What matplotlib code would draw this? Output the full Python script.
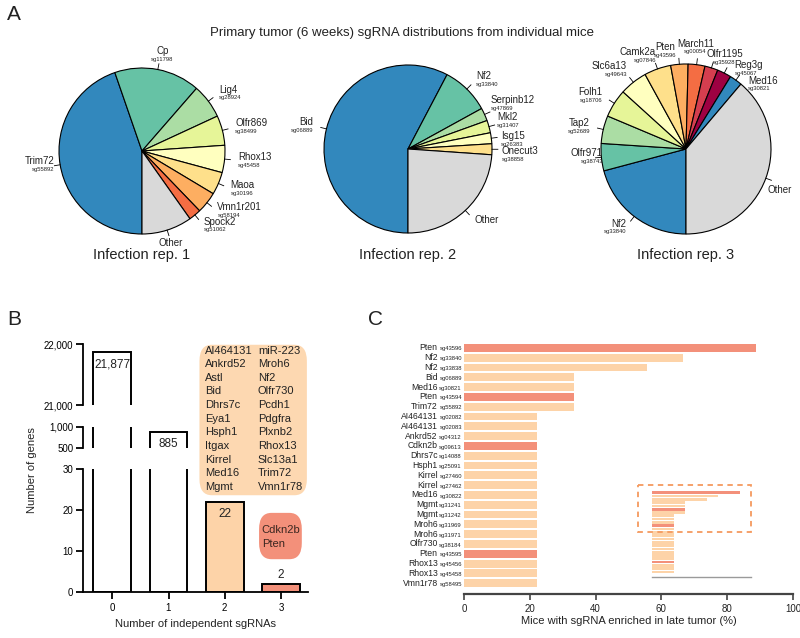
import matplotlib

matplotlib.use("Agg")
import matplotlib.pyplot as plt
from matplotlib.patches import FancyBboxPatch, Rectangle
from matplotlib.ticker import FuncFormatter
import numpy as np

W, H = 800, 638
plt.rcParams["font.family"] = ["Liberation Sans", "DejaVu Sans"]

# --- Panel A: pie data (share in %) ---
pie1_names = ["Trim72", "Cp", "Lig4", "Olfr869", "Rhox13", "Maoa", "Vmn1r201", "Spock2", "Other"]
pie1_ids = ["sg55892", "sg11798", "sg28924", "sg38499", "sg45458", "sg30196", "sg58194", "sg51062", ""]
pie1_share = [44.7, 16.7, 6.7, 5.8, 5.3, 4.4, 4.2, 2.4, 9.8]

pie2_names = ["Bid", "Nf2", "Serpinb12", "Mkl2", "Isg15", "Onecut3", "Other"]
pie2_ids = ["sg06889", "sg33840", "sg47869", "sg31407", "sg26383", "sg38858", ""]
pie2_share = [57.7, 9.3, 2.5, 2.4, 2.1, 2.1, 23.9]

pie3_names = ["Nf2", "Olfr971", "Tap2", "Folh1", "Slc6a13", "Camk2a", "Pten", "March11",
              "Olfr1195", "Reg3g", "Med16", "Other"]
pie3_ids = ["sg33840", "sg38743", "sg52689", "sg18706", "sg49643", "sg07846", "sg43596", "sg00054",
            "sg35928", "sg45067", "sg30821", ""]
pie3_share = [20.9, 5.2, 5.3, 5.4, 5.3, 5.1, 3.3, 3.2, 2.5, 2.7, 2.4, 38.9]

# --- Panel B ---
b_sgrnas = [0, 1, 2, 3]
b_genes = [21877, 885, 22, 2]
b_two_sg = ["AI464131", "Ankrd52", "Astl", "Bid", "Dhrs7c", "Eya1", "Hsph1", "Itgax", "Kirrel",
            "Med16", "Mgmt", "miR-223", "Mroh6", "Nf2", "Olfr730", "Pcdh1", "Pdgfra", "Plxnb2",
            "Rhox13", "Slc13a1", "Trim72", "Vmn1r78"]
b_three_sg = ["Cdkn2b", "Pten"]

# --- Panel C ---
c_genes = ["Pten", "Nf2", "Nf2", "Bid", "Med16", "Pten", "Trim72", "AI464131", "AI464131",
           "Ankrd52", "Cdkn2b", "Dhrs7c", "Hsph1", "Kirrel", "Kirrel", "Med16", "Mgmt", "Mgmt",
           "Mroh6", "Mroh6", "Olfr730", "Pten", "Rhox13", "Rhox13", "Vmn1r78"]
c_ids = ["sg43596", "sg33840", "sg33838", "sg06889", "sg30821", "sg43594", "sg55892", "sg02082",
         "sg02083", "sg04312", "sg09613", "sg14088", "sg25091", "sg27460", "sg27462", "sg30822",
         "sg31241", "sg31242", "sg31969", "sg31971", "sg38184", "sg43595", "sg45456", "sg45458",
         "sg58495"]
c_pct = [88.9, 66.7, 55.6, 33.3, 33.3, 33.3, 33.3, 22.2, 22.2, 22.2, 22.2, 22.2, 22.2, 22.2,
         22.2, 22.2, 22.2, 22.2, 22.2, 22.2, 22.2, 22.2, 22.2, 22.2, 22.2]

SPECTRAL = ["#3288bd", "#66c2a5", "#abdda4", "#e6f598", "#ffffbf", "#fee08b", "#fdae61",
            "#f46d43", "#d53e4f", "#9e0142"]
GREY = "#d9d9d9"
PEACH = "#fdd3a8"
SALMON = "#f3907a"
TXT = "#222222"

# label nudges (pixels, +y = down) for crowded pie labels
NUDGE1 = {"Trim72": (7, -2), "Cp": (2, -2)}
NUDGE2 = {"Serpinb12": (-6, -5), "Mkl2": (-5, -2), "Isg15": (-4, 3), "Onecut3": (-4, 5)}
NUDGE3 = {"Olfr971": (15, -2), "Camk2a": (3, 0), "Pten": (-13, 0), "March11": (-3, -4),
          "Olfr1195": (9, 3), "Reg3g": (4, 8), "Med16": (4, 15), "Slc6a13": (2, -2),
          "Other": (-11, 7)}


def px_rect(left, top, right, bottom):
    return [left / W, 1 - bottom / H, (right - left) / W, (bottom - top) / H]


fig = plt.figure(figsize=(8, 6.38), dpi=100)


def draw_pie(cx, cy, r_px, names, ids, shares, colors, rep, nudge):
    lim = 1.55
    half = lim * r_px
    ax = fig.add_axes(px_rect(cx - half, cy - half, cx + half, cy + half))
    wedges, _ = ax.pie(shares, colors=colors, startangle=270, counterclock=False, radius=1,
                       wedgeprops=dict(edgecolor="black", linewidth=0.8))
    ax.set_xlim(-lim, lim)
    ax.set_ylim(-lim, lim)
    ax.set_aspect("equal")
    ax.axis("off")
    for w, name, sg in zip(wedges, names, ids):
        th = np.deg2rad((w.theta1 + w.theta2) / 2)
        c, s = np.cos(th), np.sin(th)
        ax.plot([c, 1.07 * c], [s, 1.07 * s], color="black", lw=0.6)
        ha = "left" if c > 0.32 else ("right" if c < -0.32 else "center")
        dx, dy = nudge.get(name, (0, 0))
        dx, dy = dx * 0.72, -dy * 0.72
        anchor = (1.16 * c, 1.16 * s)
        if sg:
            ax.annotate(name, anchor, xytext=(dx, dy + 2.6), textcoords="offset points", ha=ha,
                        va="center", fontsize=7, color=TXT)
            ax.annotate(sg, anchor, xytext=(dx, dy - 3.4), textcoords="offset points", ha=ha,
                        va="center", fontsize=4.2, color=TXT)
        else:
            ax.annotate(name, anchor, xytext=(dx, dy), textcoords="offset points", ha=ha,
                        va="center", fontsize=7, color=TXT)
    fig.text(cx / W, 1 - 255 / H, rep, ha="center", va="center", fontsize=10.5, color=TXT)


draw_pie(142, 151, 83, pie1_names, pie1_ids, pie1_share, SPECTRAL[:8] + [GREY],
         "Infection rep. 1", NUDGE1)
draw_pie(408, 149, 84, pie2_names, pie2_ids, pie2_share, SPECTRAL[:6] + [GREY],
         "Infection rep. 2", NUDGE2)
draw_pie(686, 149, 85, pie3_names, pie3_ids, pie3_share, SPECTRAL[:10] + [SPECTRAL[0], GREY],
         "Infection rep. 3", NUDGE3)

fig.text(402 / W, 1 - 33 / H, "Primary tumor (6 weeks) sgRNA distributions from individual mice",
         ha="center", va="center", fontsize=9.5, color=TXT)

# --- Panel B: broken y axis built from three stacked axes ---
segments = [((21000, 22000), (344, 405), [21000, 22000]),
            ((500, 1000), (427, 448), [500, 1000]),
            ((0, 30), (469, 592), [0, 10, 20, 30])]
b_fill = ["white", "white", PEACH, SALMON]
fmt = FuncFormatter(lambda v, _: f"{int(v):,}")
b_axes = []
for (ylo, yhi), (top, bottom), ticks in segments:
    ax = fig.add_axes(px_rect(83, top, 308, bottom))
    ax.bar(b_sgrnas, b_genes, width=0.67, color=b_fill, edgecolor="black", linewidth=1.4)
    ax.set_xlim(-0.52, 3.48)
    ax.set_ylim(ylo, yhi)
    ax.set_yticks(ticks)
    ax.yaxis.set_major_formatter(fmt)
    ax.patch.set_alpha(0)
    for sp in ("top", "right", "bottom"):
        ax.spines[sp].set_visible(False)
    ax.spines["left"].set_linewidth(1.3)
    ax.tick_params(axis="y", direction="out", length=5, width=1.3, labelsize=7, pad=2)
    ax.tick_params(axis="x", bottom=False, labelbottom=False)
    for x, v in zip(b_sgrnas, b_genes):
        if ylo < v <= yhi:
            inside = x < 3
            ax.annotate(f"{v:,}", (x, v), xytext=(0, -9 if inside else 6),
                        textcoords="offset points", ha="center", va="center",
                        fontsize=8.5, color=TXT)
    b_axes.append(ax)

axb = b_axes[-1]
axb.spines["bottom"].set_visible(True)
axb.spines["bottom"].set_linewidth(1.3)
axb.set_xticks(b_sgrnas)
axb.tick_params(axis="x", bottom=True, labelbottom=True, direction="out", length=5, width=1.3,
                labelsize=7, pad=3)
axb.set_xlabel("Number of independent sgRNAs", fontsize=8, labelpad=4, color=TXT)
fig.text(32 / W, 1 - 470 / H, "Number of genes", rotation=90, ha="center", va="center",
         fontsize=8, color=TXT)

# gene-list boxes
axb.add_patch(FancyBboxPatch((1.55, 23.6), 1.91, 36.7,
                             boxstyle="round,pad=0,rounding_size=0.22", mutation_aspect=18,
                             fc="#fdd8b1", ec="none", clip_on=False))
half = len(b_two_sg) // 2
for i in range(half):
    y = 58.9 - i * 3.33
    axb.text(1.65, y, b_two_sg[i], fontsize=8, color=TXT, va="center")
    axb.text(2.59, y, b_two_sg[half + i], fontsize=8, color=TXT, va="center")
axb.add_patch(FancyBboxPatch((2.61, 8.0), 0.76, 11.3,
                             boxstyle="round,pad=0,rounding_size=0.22", mutation_aspect=18,
                             fc=SALMON, ec="none", clip_on=False))
for i, g in enumerate(b_three_sg):
    axb.text(2.66, 15.1 - i * 3.4, g, fontsize=8, color="#3a2620", va="center")

# --- Panel C ---
c_colors = [SALMON if g in b_three_sg else PEACH for g in c_genes]
axc = fig.add_axes(px_rect(464, 340, 793, 594))
rows = np.arange(len(c_pct))
axc.barh(rows, c_pct, height=0.8, color=c_colors, linewidth=0)
axc.set_xlim(0, 100)
axc.set_ylim(25.1, -0.8)
for sp in ("top", "right", "left"):
    axc.spines[sp].set_visible(False)
axc.spines["bottom"].set_linewidth(1.6)
axc.spines["bottom"].set_color("#444444")
axc.set_yticks([])
axc.set_xticks([0, 20, 40, 60, 80, 100])
axc.tick_params(axis="x", direction="out", length=4, width=1.2, colors="#444444", labelsize=7,
                labelcolor=TXT, pad=3)
axc.set_xlabel("Mice with sgRNA enriched in late tumor (%)", fontsize=8, labelpad=2, color=TXT)
ytr = axc.get_yaxis_transform()
for r, g, sg in zip(rows, c_genes, c_ids):
    axc.annotate(sg, (0, r), xycoords=ytr, xytext=(-1.5, -0.8), textcoords="offset points",
                 ha="right", va="center", fontsize=4.2, color=TXT)
    axc.annotate(g, (0, r), xycoords=ytr, xytext=(-19, 0), textcoords="offset points",
                 ha="right", va="center", fontsize=6.2, color=TXT)

# thumbnail of the full ranking with the zoomed region marked
axi = fig.add_axes(px_rect(652, 490, 751, 577))
axi.barh(rows, c_pct, height=0.8, color=c_colors, linewidth=0)
axi.set_xlim(0, 100)
axi.set_ylim(25.5, -0.8)
for sp in ("top", "right", "left"):
    axi.spines[sp].set_visible(False)
axi.spines["bottom"].set_color("#9a9a9a")
axi.spines["bottom"].set_linewidth(1.0)
axi.set_xticks([])
axi.set_yticks([])
axi.patch.set_alpha(0)
axi.add_patch(Rectangle((-14, -2.2), 114, 14.2, fill=False, ls=(0, (3, 2.5)), ec="#f59a5f",
                        lw=1.3, clip_on=False))

# panel letters
for letter, x, y in [("A", 7, 14), ("B", 7, 320), ("C", 368, 320)]:
    fig.text(x / W, 1 - y / H, letter, fontsize=15, ha="left", va="center", color=TXT)

fig.savefig("out.png", dpi=100, facecolor="white")
